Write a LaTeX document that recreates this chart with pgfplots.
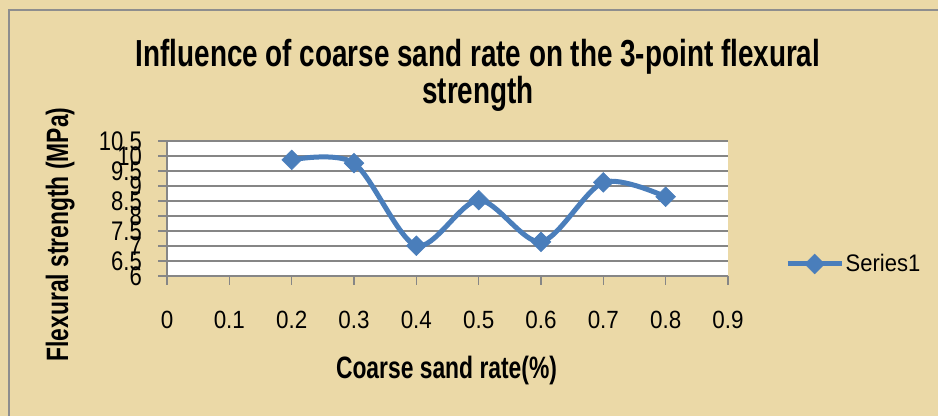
\documentclass[border=0pt]{standalone}
\usepackage{fontspec}
\setmainfont{Liberation Sans}
\newfontfamily\condbf{Liberation Sans Bold}[FakeStretch=0.74]
\newfontfamily\condrm{Liberation Sans}[FakeStretch=0.92]
\newfontfamily\condy{Liberation Sans}[FakeStretch=0.82]
\newfontfamily\condx{Liberation Sans}[FakeStretch=0.9]
\usepackage{pgfplots}
\pgfplotsset{compat=1.18}
\definecolor{bgcol}{HTML}{EBD9A7}
\definecolor{bordercol}{HTML}{8E8E8E}
\definecolor{gridcol}{HTML}{868686}
\definecolor{linecol}{HTML}{4A7EBB}
\begin{document}
\begin{tikzpicture}
\fill[bgcol] (0bp,0bp) rectangle (938bp,416bp);
\useasboundingbox (0bp,0bp) rectangle (938bp,416bp);
\draw[bordercol, line width=2bp] (9bp,0bp) -- (9bp,406bp) -- (938bp,406bp);
\begin{axis}[
  at={(167bp,140bp)}, anchor=south west,
  scale only axis, width=561bp, height=135bp,
  xmin=0, xmax=0.9, ymin=6, ymax=10.5,
  axis background/.style={fill=white},
  axis x line*=bottom, axis y line*=left,
  axis line style={gridcol, line width=1.3bp},
  ymajorgrids, grid style={gridcol, line width=1.3bp},
  ytick={6,6.5,7,7.5,8,8.5,9,9.5,10,10.5},
  xtick={0,0.1,0.2,0.3,0.4,0.5,0.6,0.7,0.8,0.9},
  tick align=outside, major tick length=9bp,
  tick style={gridcol, line width=1.3bp},
  /pgf/number format/assume math mode=true,
  yticklabel style={font=\condy\fontsize{27}{27}\selectfont, anchor=east, inner sep=0pt, xshift=-16bp},
  xticklabel style={font=\condx\fontsize{25}{25}\selectfont, anchor=base, inner sep=0pt, yshift=-43bp},
  legend style={at={(1.1016,0.089)}, anchor=west, draw=none, fill=none,
    font=\condrm\fontsize{24}{24}\selectfont, inner sep=0pt,
    nodes={inner sep=1.5bp}},
  legend image code/.code={\draw[#1, mark repeat=2, mark phase=2] plot coordinates {(0bp,0bp) (27bp,0bp) (54bp,0bp)};},
]
\addplot[linecol, line width=5bp, smooth, tension=0.5, mark=square*,
  mark size=7bp, mark options={rotate=45, fill=linecol, draw=linecol, line width=0.5bp}]
  coordinates {(0.2,9.87) (0.3,9.76) (0.4,7.01) (0.5,8.53) (0.6,7.14) (0.7,9.12) (0.8,8.64)};
\addlegendentry{Series1}
\end{axis}
\node[anchor=base, font=\condbf\fontsize{37.8}{37.8}\selectfont] at (478bp,349bp) {Influence of coarse sand rate on the 3-point flexural};
\node[anchor=base, font=\condbf\fontsize{37.8}{37.8}\selectfont] at (478bp,312bp) {strength};
\node[anchor=base, font=\condbf\fontsize{31}{31}\selectfont] at (446.5bp,38bp) {Coarse sand rate(\%)};
\node[anchor=base, rotate=90, font=\condbf\fontsize{31}{31}\selectfont] at (68bp,181.5bp) {Flexural strength (MPa)};
\end{tikzpicture}
\end{document}
